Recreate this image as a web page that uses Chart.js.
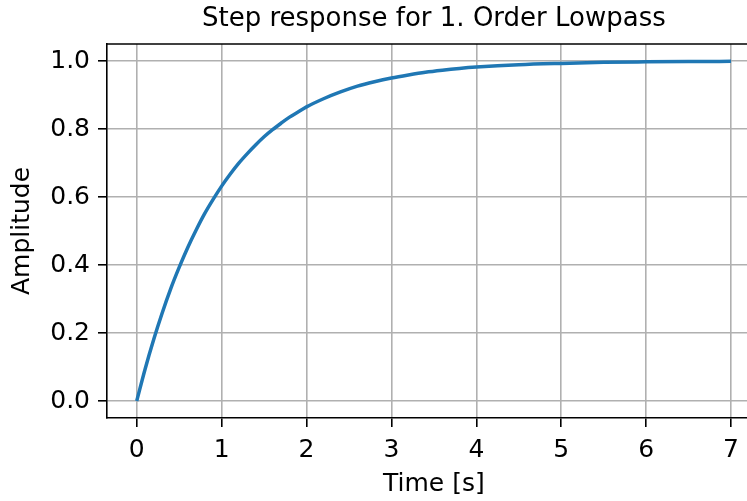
<!DOCTYPE html>
<html>
<head>
<meta charset="utf-8">
<script src="https://cdn.jsdelivr.net/npm/chart.js@4/dist/chart.umd.min.js"></script>
<style>
  html, body { margin: 0; padding: 0; background: #ffffff; overflow: hidden; }
  canvas { display: block; }
</style>
</head>
<body>
<canvas id="c" width="747" height="501"></canvas>
<script>
// Step response samples of the first-order lowpass
const timeValues = [0, 0.1, 0.2, 0.3, 0.4, 0.5, 0.6, 0.7, 0.8, 0.9, 1.0, 1.1, 1.2, 1.3, 1.4,
  1.5, 1.6, 1.7, 1.8, 1.9, 2.0, 2.2, 2.4, 2.6, 2.8, 3.0, 3.2, 3.4, 3.6, 3.8, 4.0,
  4.5, 5.0, 5.5, 6.0, 6.5, 7.0];
const amplitudeValues = [0, 0.095, 0.181, 0.259, 0.330, 0.393, 0.451, 0.503, 0.551, 0.593,
  0.632, 0.667, 0.699, 0.727, 0.753, 0.777, 0.798, 0.817, 0.835, 0.850, 0.865, 0.889,
  0.909, 0.926, 0.939, 0.950, 0.959, 0.967, 0.973, 0.978, 0.982, 0.989, 0.993, 0.996,
  0.9975, 0.9985, 0.999];

// Axis ticks
const xTicks = [0, 1, 2, 3, 4, 5, 6, 7];
const yTicks = [0, 0.2, 0.4, 0.6, 0.8, 1.0];

const FONT = "'DejaVu Sans', 'Liberation Sans', sans-serif";
const points = timeValues.map((t, i) => ({ x: t, y: amplitudeValues[i] }));

// Top spine of the axes box
const frame = {
  id: 'frame',
  afterDraw(chart) {
    const { ctx, chartArea: a } = chart;
    ctx.save();
    ctx.strokeStyle = '#000000';
    ctx.lineWidth = 1.6;
    ctx.beginPath();
    ctx.moveTo(a.left - 0.8, a.top);
    ctx.lineTo(a.right, a.top);
    ctx.stroke();
    ctx.restore();
  }
};

new Chart(document.getElementById('c'), {
  type: 'line',
  data: {
    datasets: [{
      data: points,
      xAxisID: 'x',
      yAxisID: 'y',
      borderColor: '#1f77b4',
      borderWidth: 3.5,
      pointRadius: 0,
      fill: false,
      cubicInterpolationMode: 'monotone'
    }]
  },
  options: {
    responsive: false,
    devicePixelRatio: 1,
    animation: false,
    layout: { padding: 0 },
    plugins: {
      legend: { display: false },
      tooltip: { enabled: false }
    },
    scales: {
      // top axis only carries the chart heading, centred over the full axes box
      top: {
        type: 'linear',
        position: 'top',
        min: -0.35,
        max: 7.188,
        afterFit(scale) { scale.height = 44; },
        ticks: { display: false },
        grid: { display: false, drawTicks: false },
        border: { display: false },
        title: {
          display: true,
          align: 'start',
          text: 'Step response for 1. Order Lowpass',
          color: '#000000',
          font: { family: FONT, size: 26, weight: 'normal', lineHeight: 1.2 },
          padding: { top: 4, bottom: 0 }
        }
      },
      x: {
        type: 'linear',
        position: 'bottom',
        min: -0.35,
        max: 7.188,
        afterBuildTicks(scale) { scale.ticks = xTicks.map(v => ({ value: v })); },
        afterFit(scale) { scale.height = 83; },
        ticks: {
          color: '#000000',
          padding: 8,
          maxRotation: 0,
          font: { family: FONT, size: 25, lineHeight: 1.2 },
          callback: v => String(v)
        },
        grid: {
          color: '#b0b0b0',
          lineWidth: 1.6,
          tickColor: '#000000',
          tickWidth: 1.6,
          tickLength: 9
        },
        border: { display: true, color: '#000000', width: 1.6 },
        title: {
          display: true,
          align: 'start',
          text: 'Time [s]',
          color: '#000000',
          font: { family: FONT, size: 25, lineHeight: 1.2 },
          padding: { top: 0, bottom: 2 }
        }
      },
      y: {
        type: 'linear',
        position: 'left',
        min: -0.05,
        max: 1.05,
        afterBuildTicks(scale) { scale.ticks = yTicks.map(v => ({ value: v })); },
        afterFit(scale) { scale.width = 107; },
        ticks: {
          color: '#000000',
          padding: 8,
          font: { family: FONT, size: 25, lineHeight: 1.2 },
          callback: v => Number(v).toFixed(1)
        },
        grid: {
          color: '#b0b0b0',
          lineWidth: 1.6,
          tickColor: '#000000',
          tickWidth: 1.6,
          tickLength: 9
        },
        border: { display: true, color: '#000000', width: 1.6 },
        title: {
          display: true,
          text: 'Amplitude',
          color: '#000000',
          font: { family: FONT, size: 25, lineHeight: 1.2 },
          padding: { top: 7, bottom: 0 }
        }
      }
    }
  },
  plugins: [frame, {
    // headings are centred on the full axes box, which extends past the canvas edge
    id: 'centreTitles',
    afterLayout(chart) {
      const a = chart.chartArea;
      const fullRight = chart.scales.x.getPixelForValue(7.35);
      const centre = (a.left + fullRight) / 2;
      ['top', 'x'].forEach(id => {
        const s = chart.scales[id];
        const ctx = chart.ctx;
        ctx.save();
        ctx.font = (id === 'top' ? '26px ' : '25px ') + FONT;
        const w = ctx.measureText(s.options.title.text).width;
        ctx.restore();
        s._titleShift = centre - w / 2 - s.left;
      });
    },
    beforeDraw(chart) {
      ['top', 'x'].forEach(id => {
        const s = chart.scales[id];
        if (!s._titleShifted) {
          const orig = s.drawTitle.bind(s);
          s.drawTitle = function () {
            const ctx = this.ctx;
            ctx.save();
            ctx.translate(this._titleShift, 0);
            orig();
            ctx.restore();
          };
          s._titleShifted = true;
        }
      });
    }
  }]
});
</script>
</body>
</html>
